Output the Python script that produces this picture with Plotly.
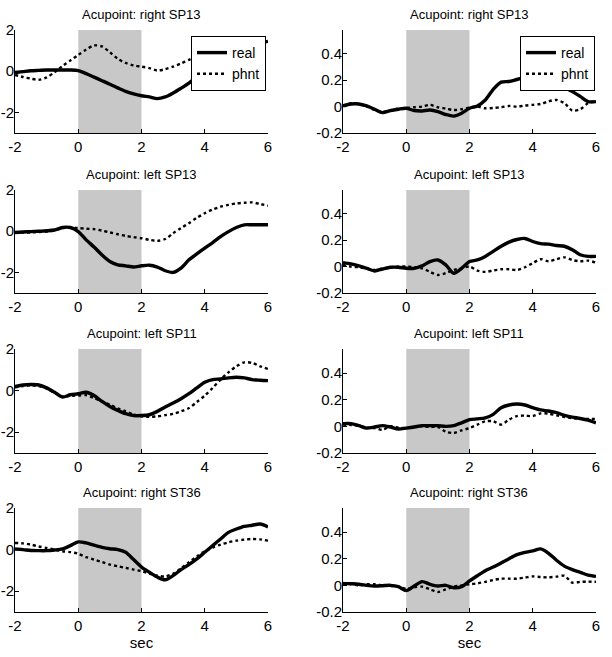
import plotly.graph_objects as go

t = [-2, -1.75, -1.5, -1.25, -1, -0.75, -0.5, -0.25, 0, 0.25, 0.5, 0.75, 1, 1.25, 1.5, 1.75,
     2, 2.25, 2.5, 2.75, 3, 3.25, 3.5, 3.75, 4, 4.25, 4.5, 4.75, 5, 5.25, 5.5, 5.75, 6]

titles = ["Acupoint: right SP13", "Acupoint: right SP13",
          "Acupoint: left SP13", "Acupoint: left SP13",
          "Acupoint: left SP11", "Acupoint: left SP11",
          "Acupoint: right ST36", "Acupoint: right ST36"]

# left column (large scale)
r_sp13_L_real = [-0.06, -0.02, 0.02, 0.04, 0.06, 0.06, 0.06, 0.06, 0.03, -0.12, -0.29, -0.46, -0.63, -0.81, -0.98, -1.1,
                 -1.19, -1.25, -1.33, -1.25, -1.06, -0.83, -0.58, -0.27, 0.06, 0.45, 0.75, 0.95, 1.1, 1.2, 1.3, 1.38, 1.45]
r_sp13_L_phnt = [-0.18, -0.28, -0.36, -0.42, -0.3, -0.05, 0.25, 0.52, 0.79, 1.05, 1.25, 1.2, 0.92, 0.6, 0.4, 0.28,
                 0.22, 0.15, 0.03, 0.1, 0.22, 0.38, 0.55, 0.72, 0.87, 1.05, 1.15, 1.22, 1.28, 1.32, 1.36, 1.38, 1.4]
l_sp13_L_real = [-0.06, -0.04, -0.02, 0.0, 0.02, 0.06, 0.18, 0.18, -0.02, -0.42, -0.77, -1.15, -1.47, -1.63, -1.68, -1.74,
                 -1.68, -1.65, -1.74, -1.92, -2.0, -1.79, -1.39, -1.1, -0.82, -0.55, -0.26, -0.02, 0.18, 0.31, 0.31, 0.31, 0.31]
l_sp13_L_phnt = [-0.08, -0.06, -0.06, -0.04, -0.02, 0.05, 0.15, 0.17, 0.15, 0.12, 0.1, 0.03, -0.06, -0.15, -0.23, -0.29,
                 -0.34, -0.42, -0.47, -0.38, -0.1, 0.15, 0.39, 0.65, 0.87, 1.05, 1.19, 1.28, 1.35, 1.38, 1.4, 1.32, 1.24]
l_sp11_L_real = [0.2, 0.27, 0.29, 0.27, 0.13, -0.08, -0.31, -0.2, -0.15, -0.08, -0.24, -0.52, -0.76, -0.95, -1.11, -1.2,
                 -1.2, -1.16, -1.0, -0.79, -0.6, -0.39, -0.15, 0.13, 0.4, 0.53, 0.56, 0.61, 0.64, 0.61, 0.53, 0.5, 0.48]
l_sp11_L_phnt = [0.15, 0.22, 0.25, 0.22, 0.1, -0.1, -0.3, -0.25, -0.24, -0.22, -0.36, -0.52, -0.68, -0.85, -1.0, -1.15,
                 -1.24, -1.26, -1.24, -1.18, -1.12, -1.0, -0.84, -0.55, -0.24, 0.13, 0.53, 0.88, 1.17, 1.36, 1.33, 1.17, 1.04]
r_st36_L_real = [0.03, 0.0, -0.04, -0.05, -0.05, -0.02, 0.03, 0.19, 0.37, 0.32, 0.21, 0.11, 0.04, 0.0, -0.13, -0.48,
                 -0.84, -1.09, -1.32, -1.45, -1.25, -0.96, -0.72, -0.45, -0.13, 0.19, 0.51, 0.83, 0.99, 1.12, 1.17, 1.23, 1.09]
r_st36_L_phnt = [0.32, 0.3, 0.24, 0.15, 0.08, 0.0, -0.08, -0.12, -0.2, -0.36, -0.48, -0.6, -0.72, -0.8, -0.88, -0.96,
                 -1.04, -1.15, -1.25, -1.29, -1.16, -0.9, -0.61, -0.33, -0.08, 0.1, 0.24, 0.35, 0.43, 0.48, 0.51, 0.49, 0.43]

# right column (small scale)
r_sp13_R_real = [0.005, 0.02, 0.02, 0.005, -0.02, -0.046, -0.03, -0.02, -0.013, -0.03, -0.033, -0.026, -0.038, -0.06, -0.072, -0.05,
                 -0.013, 0.005, 0.05, 0.13, 0.185, 0.19, 0.205, 0.218, 0.19, 0.167, 0.154, 0.149, 0.141, 0.115, 0.077, 0.038, 0.038]
r_sp13_R_phnt = [0.01, 0.025, 0.02, 0.0, -0.025, -0.04, -0.028, -0.015, -0.01, -0.005, 0.0, 0.013, -0.005, -0.015, -0.026, -0.02,
                 -0.008, 0.0, -0.013, -0.01, -0.005, 0.005, 0.0, 0.008, 0.013, 0.02, 0.04, 0.05, 0.026, -0.03, -0.02, 0.026, 0.04]
l_sp13_R_real = [0.03, 0.02, 0.005, -0.013, -0.033, -0.018, -0.005, -0.005, -0.013, -0.013, 0.005, 0.038, 0.05, 0.013, -0.05, -0.013,
                 0.038, 0.05, 0.077, 0.115, 0.154, 0.185, 0.205, 0.213, 0.19, 0.174, 0.17, 0.16, 0.154, 0.128, 0.09, 0.077, 0.077]
l_sp13_R_phnt = [0.013, 0.0, -0.005, -0.015, -0.026, -0.015, -0.005, 0.0, 0.0, -0.005, -0.013, -0.04, -0.064, -0.05, -0.026, -0.013,
                 0.0, -0.03, -0.04, -0.03, -0.02, -0.02, -0.026, -0.005, 0.026, 0.056, 0.04, 0.056, 0.07, 0.05, 0.04, 0.045, 0.03]
l_sp11_R_real = [0.02, 0.02, 0.005, -0.013, -0.005, 0.005, -0.005, -0.02, -0.013, -0.005, 0.005, 0.005, 0.005, 0.0, 0.005, 0.026,
                 0.05, 0.056, 0.064, 0.09, 0.14, 0.16, 0.167, 0.16, 0.14, 0.123, 0.115, 0.103, 0.082, 0.069, 0.059, 0.046, 0.026]
l_sp11_R_phnt = [0.013, 0.01, 0.005, -0.01, -0.013, -0.026, 0.0, -0.01, -0.013, -0.005, 0.0, -0.005, -0.005, -0.04, -0.05, -0.03,
                 -0.013, 0.013, 0.038, 0.038, 0.013, 0.05, 0.077, 0.08, 0.077, 0.097, 0.095, 0.082, 0.07, 0.062, 0.056, 0.056, 0.056]
r_st36_R_real = [0.015, 0.012, 0.008, 0.0, -0.005, -0.003, 0.0, -0.01, -0.04, -0.005, 0.028, 0.008, -0.005, 0.0, -0.018, -0.01,
                 0.033, 0.072, 0.11, 0.137, 0.168, 0.2, 0.23, 0.247, 0.258, 0.273, 0.24, 0.188, 0.144, 0.118, 0.098, 0.077, 0.067]
r_st36_R_phnt = [0.008, 0.01, 0.0, 0.008, 0.008, 0.0, -0.005, -0.01, -0.026, -0.015, -0.01, -0.03, -0.05, -0.03, -0.01, 0.0,
                 0.008, 0.015, 0.026, 0.04, 0.05, 0.05, 0.05, 0.058, 0.067, 0.062, 0.06, 0.065, 0.072, 0.02, 0.026, 0.028, 0.026]

panels = [
    (r_sp13_L_real, r_sp13_L_phnt), (r_sp13_R_real, r_sp13_R_phnt),
    (l_sp13_L_real, l_sp13_L_phnt), (l_sp13_R_real, l_sp13_R_phnt),
    (l_sp11_L_real, l_sp11_L_phnt), (l_sp11_R_real, l_sp11_R_phnt),
    (r_st36_L_real, r_st36_L_phnt), (r_st36_R_real, r_st36_R_phnt),
]

left_ticks = [-2, 0, 2]
left_ticktext = ["-2", "0", "2"]
right_ticks = [-0.2, 0, 0.2, 0.4]
right_ticktext = ["-0.2", "0", "0.2", "0.4"]
x_ticks = [-2, 0, 2, 4, 6]
x_ticktext = ["-2", "0", "2", "4", "6"]
stim_window = [0, 2]

W, H = 612, 657
FONT = "Liberation Sans, Arial, sans-serif"

col_px = [(15, 268), (343, 596)]
row_px = [(30, 133), (190, 293), (349, 453), (508, 612)]


def px_x(p):
    return p / W


def px_y(p):
    return 1 - p / H


fig = go.Figure()
layout = dict(
    width=W, height=H, margin=dict(l=0, r=0, t=0, b=0, autoexpand=False),
    paper_bgcolor="white", plot_bgcolor="white",
    font=dict(family=FONT, size=14, color="black"),
    shapes=[], annotations=[],
)

for i, (real, phnt) in enumerate(panels):
    r, c = divmod(i, 2)
    n = i + 1
    xs = "" if n == 1 else str(n)
    x0, x1 = col_px[c]
    y0, y1 = row_px[r]
    xdom = [px_x(x0), px_x(x1)]
    ydom = [px_y(y1), px_y(y0)]
    leg = "legend" if n == 1 else ("legend2" if n == 2 else None)
    for name, vals, dash, width in [("real", real, "solid", 3.4), ("phnt", phnt, "dot", 2.4)]:
        tr = dict(x=t, y=vals, mode="lines", name=name, xaxis="x" + xs, yaxis="y" + xs,
                  line=dict(color="black", width=width, dash=dash, shape="spline", smoothing=0.8),
                  showlegend=leg is not None, hoverinfo="skip")
        if leg is not None:
            tr["legend"] = leg
        fig.add_trace(go.Scatter(**tr))
    layout["xaxis" + xs] = dict(
        domain=xdom, anchor="y" + xs, range=[-2, 6], tickvals=x_ticks, ticktext=x_ticktext,
        ticks="inside", ticklen=4, tickcolor="black", showline=True, linecolor="black", linewidth=1,
        mirror=False, showgrid=False, zeroline=False, automargin=False,
        tickfont=dict(size=15, family=FONT),
        title=dict(text="sec", font=dict(size=15, family=FONT), standoff=2) if r == 3 else None,
    )
    if c == 0:
        yr, tv, tt = [-3, 2], left_ticks, left_ticktext
    else:
        yr, tv, tt = [-0.2, 0.58], right_ticks, right_ticktext
    layout["yaxis" + xs] = dict(
        domain=ydom, anchor="x" + xs, range=yr, tickvals=tv, ticktext=tt,
        ticks="inside", ticklen=4, tickcolor="black", showline=True, linecolor="black", linewidth=1,
        mirror=False, showgrid=False, zeroline=False, automargin=False,
        tickfont=dict(size=15, family=FONT), ticklabelstandoff=-3,
    )
    layout["shapes"].append(dict(
        type="rect", xref="x" + xs, yref="y" + xs + " domain", x0=stim_window[0], x1=stim_window[1],
        y0=0, y1=1, fillcolor="#c8c8c8", line=dict(width=0), layer="below"))
    layout["annotations"].append(dict(
        text=titles[i], xref="paper", yref="paper", x=(xdom[0] + xdom[1]) / 2,
        y=px_y(y0 - 16), xanchor="center", yanchor="middle", showarrow=False,
        font=dict(size=13, family=FONT, color="black")))

legend_common = dict(
    bgcolor="white", bordercolor="black", borderwidth=1, font=dict(size=14, family=FONT),
    xanchor="right", yanchor="top", itemwidth=30, tracegroupgap=0,
)
layout["legend"] = dict(legend_common, x=px_x(266), y=px_y(36))
layout["legend2"] = dict(legend_common, x=px_x(595), y=px_y(36))

fig.update_layout(**layout)
fig.write_html("out.html", config={"staticPlot": True, "displayModeBar": False},
               post_script="document.body.style.margin='0px';")
